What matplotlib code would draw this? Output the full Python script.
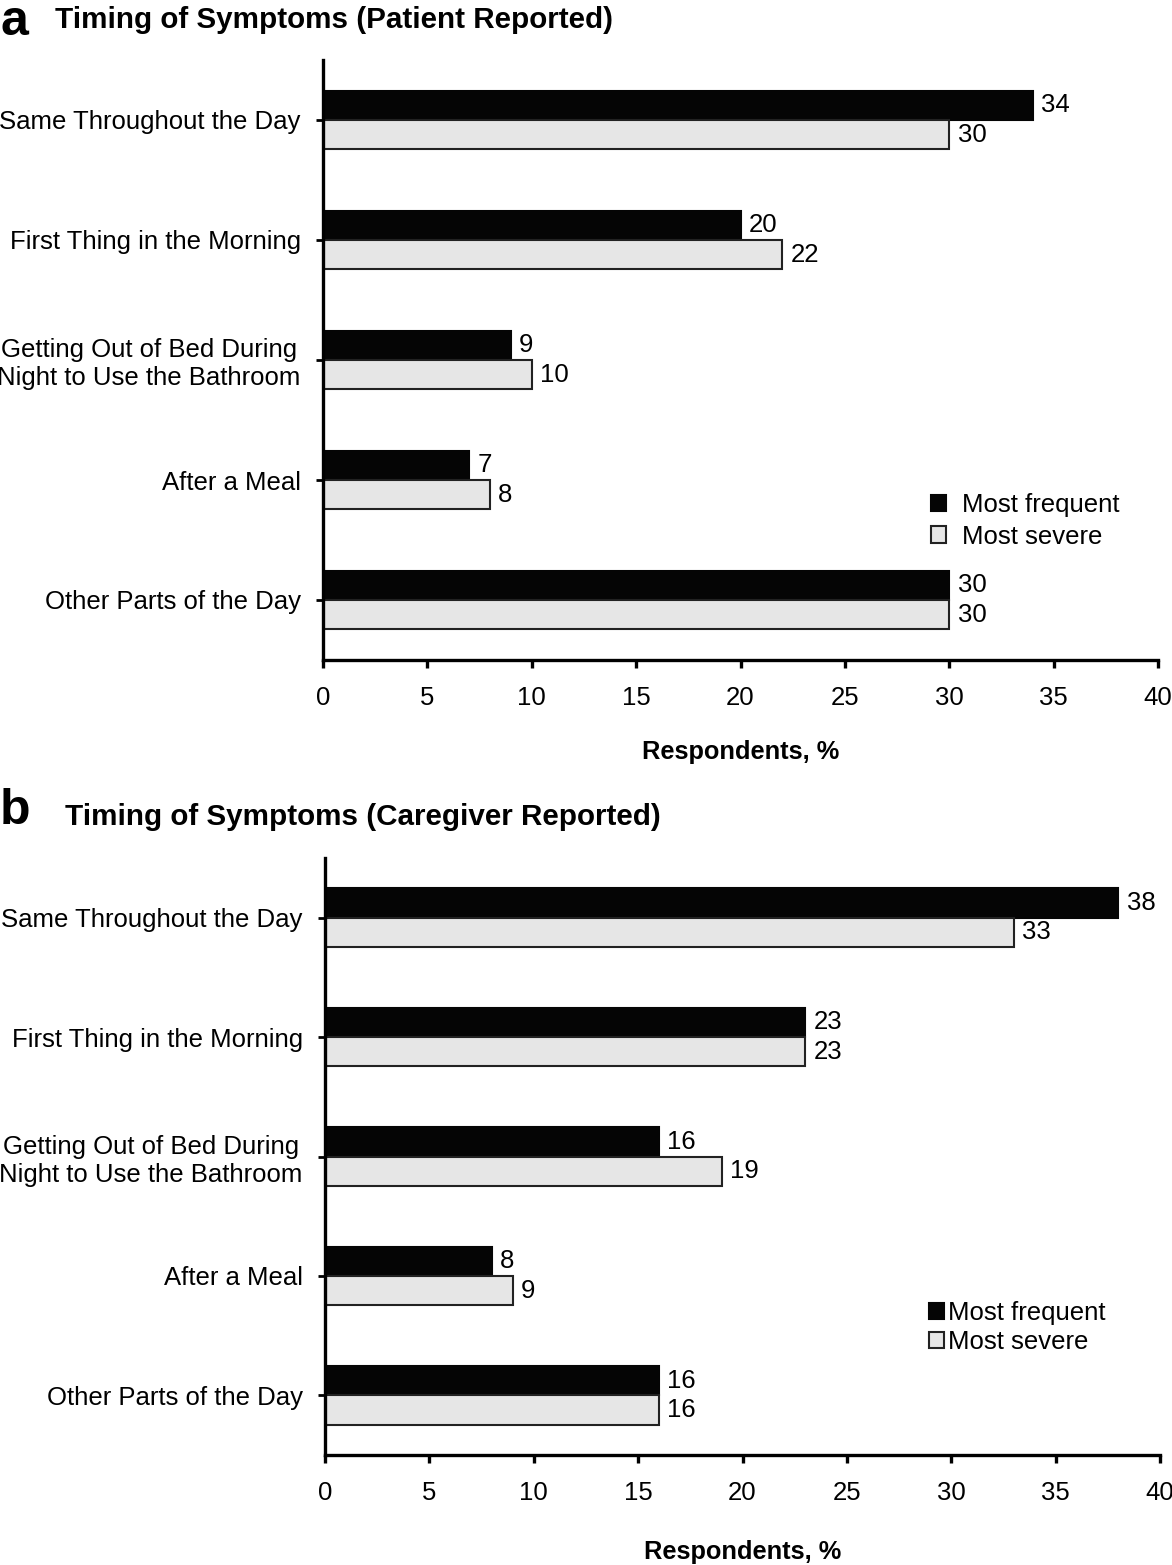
import matplotlib
matplotlib.use("Agg")
import matplotlib.pyplot as plt
import numpy as np
from matplotlib.patches import Patch

plt.rcParams.update({
    "font.family": ["Liberation Sans", "DejaVu Sans"],
    "font.size": 18,
})

categories = [
    "Same Throughout the Day",
    "First Thing in the Morning",
    "Getting Out of Bed During\nNight to Use the Bathroom",
    "After a Meal",
    "Other Parts of the Day",
]
patient_frequent = [34, 20, 9, 7, 30]
patient_severe = [30, 22, 10, 8, 30]
caregiver_frequent = [38, 23, 16, 8, 16]
caregiver_severe = [33, 23, 19, 9, 16]
x_ticks = [0, 5, 10, 15, 20, 25, 30, 35, 40]
series_labels = ["Most frequent", "Most severe"]

BLACK = "#050505"
GREY = "#e6e6e6"
W, H = 1172, 1565


def draw_panel(ax, freq, sev, xlabelpad):
    y = np.arange(len(categories))
    h = 0.245
    ax.barh(y - h / 2, freq, height=h, color=BLACK, edgecolor=BLACK, linewidth=1.5)
    ax.barh(y + h / 2, sev, height=h, color=GREY, edgecolor="#222222", linewidth=1.5)
    for yi, v in zip(y, freq):
        ax.annotate(str(v), (v, yi - h / 2), xytext=(6, 0), textcoords="offset points",
                    va="center", ha="left", fontsize=18.5)
    for yi, v in zip(y, sev):
        ax.annotate(str(v), (v, yi + h / 2), xytext=(6, 0), textcoords="offset points",
                    va="center", ha="left", fontsize=18.5)
    ax.set_ylim(len(categories) - 0.5, -0.5)
    ax.set_xlim(0, 40)
    ax.set_xticks(x_ticks)
    ax.set_yticks(y)
    ax.set_yticklabels(categories, multialignment="center", fontsize=18.5)
    ax.spines["top"].set_visible(False)
    ax.spines["right"].set_visible(False)
    for s in ("left", "bottom"):
        ax.spines[s].set_linewidth(2.4)
    ax.tick_params(axis="y", length=5, width=2, pad=11)
    ax.tick_params(axis="x", length=6, width=2.4, pad=13, labelsize=18.5)
    ax.set_xlabel("Respondents, %", fontweight="bold", fontsize=18.3, labelpad=xlabelpad)


fig = plt.figure(figsize=(W / 100, H / 100), dpi=100)
ax_a = fig.add_axes([323 / W, 1 - 660 / H, 835 / W, 600 / H])
ax_b = fig.add_axes([325 / W, 1 - 1455 / H, 835 / W, 597 / H])

draw_panel(ax_a, patient_frequent, patient_severe, 21)
draw_panel(ax_b, caregiver_frequent, caregiver_severe, 25)

fig.text(0, 1 - 22 / H, "a", fontsize=36, fontweight="bold", va="center", ha="left")
fig.text(55 / W, 1 - 20 / H, "Timing of Symptoms (Patient Reported)", fontsize=21.3,
         fontweight="bold", va="center", ha="left")
fig.text(0, 1 - 811 / H, "b", fontsize=36, fontweight="bold", va="center", ha="left")
fig.text(65 / W, 1 - 817 / H, "Timing of Symptoms (Caregiver Reported)", fontsize=21.3,
         fontweight="bold", va="center", ha="left")

handles = [Patch(facecolor=BLACK, edgecolor=BLACK, linewidth=1.5),
           Patch(facecolor=GREY, edgecolor="#222222", linewidth=1.5)]
ax_a.legend(handles, series_labels, loc="upper left", bbox_to_anchor=(918 / W, 1 - 480 / H),
            bbox_transform=fig.transFigure, frameon=False, fontsize=18.5,
            handlelength=0.6, handleheight=0.6, handletextpad=0.6, labelspacing=0.3,
            borderpad=0)
ax_b.legend(handles, series_labels, loc="upper left", bbox_to_anchor=(916 / W, 1 - 1288 / H),
            bbox_transform=fig.transFigure, frameon=False, fontsize=18.5,
            handlelength=0.6, handleheight=0.6, handletextpad=0.15, labelspacing=0.2,
            borderpad=0)

fig.savefig("out.png", dpi=100)
